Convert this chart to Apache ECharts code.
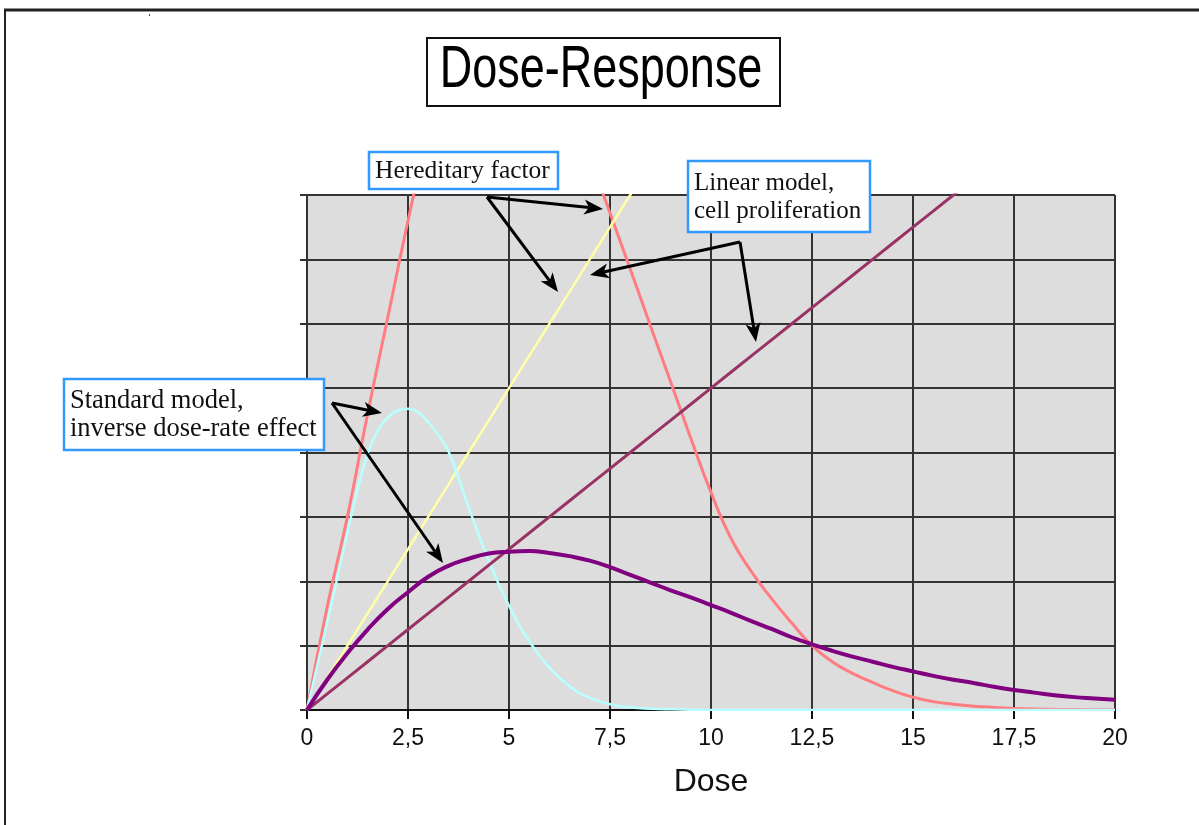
<!DOCTYPE html>
<html>
<head>
<meta charset="utf-8">
<title>Dose-Response</title>
<script src="https://cdn.jsdelivr.net/npm/echarts@6/dist/echarts.min.js"></script>
<style>
  html, body { margin: 0; padding: 0; background: #fff; }
  #chart { width: 1199px; height: 825px; }
</style>
</head>
<body>
<div id="chart"></div>
<script>
// dose steps
const doses = [0, 0.5, 1, 1.5, 2, 2.5, 3, 3.5, 4, 4.5, 5, 5.5, 6, 6.5, 7, 7.5, 8, 8.5, 9, 9.5,
  10, 10.5, 11, 11.5, 12, 12.5, 13, 13.5, 14, 14.5, 15, 15.5, 16, 16.5, 17, 17.5, 18, 18.5, 19, 19.5, 20];

// hereditary factor (red), peaks off the top of the chart
const hereditary = [0, 1.6, 3.0, 4.6, 6.1, 7.6, 9.0, 10.3, 11.3, 11.9, 12.0, 11.6, 10.7, 9.6, 8.6, 7.72, 6.85, 5.97, 5.1, 4.22,
  3.38, 2.66, 2.15, 1.73, 1.35, 1.0, 0.75, 0.57, 0.43, 0.3, 0.2, 0.13, 0.09, 0.06, 0.04, 0.025, 0.015, 0.01, 0.007, 0.005, 0.004];

// yellow straight line
const linearSteep = [0, 0.5, 1, 1.5, 2, 2.5, 3, 3.5, 4, 4.5, 5, 5.5, 6, 6.5, 7, 7.5, 8, 8.5, 9, 9.5,
  10, 10.5, 11, 11.5, 12, 12.5, 13, 13.5, 14, 14.5, 15, 15.5, 16, 16.5, 17, 17.5, 18, 18.5, 19, 19.5, 20];

// inverse dose-rate effect (cyan), read on a finer step around the hump
const cyanDoses = [0, 0.25, 0.5, 0.75, 1, 1.25, 1.5, 1.75, 2, 2.25, 2.5, 2.75, 3, 3.25, 3.5, 3.75, 4, 4.25, 4.5, 4.75,
  5, 5.25, 5.5, 5.75, 6, 6.5, 7, 7.5, 8, 9, 10, 20];
const inverseRate = [0, 0.68, 1.36, 2.05, 2.75, 3.42, 3.98, 4.33, 4.54, 4.65, 4.68, 4.62, 4.47, 4.27, 4.02, 3.6, 3.15, 2.72, 2.32, 1.95,
  1.62, 1.32, 1.07, 0.85, 0.66, 0.37, 0.19, 0.09, 0.04, 0.01, 0, 0];

// linear model, cell proliferation (maroon)
const linearModel = [0, 0.25, 0.5, 0.75, 1, 1.25, 1.5, 1.75, 2, 2.25, 2.5, 2.75, 3, 3.25, 3.5, 3.75, 4, 4.25, 4.5, 4.75,
  5, 5.25, 5.5, 5.75, 6, 6.25, 6.5, 6.75, 7, 7.25, 7.5, 7.75, 8, 8.25, 8.5, 8.75, 9, 9.25, 9.5, 9.75, 10];

// standard model (dark purple)
const standardModel = [0, 0.47, 0.88, 1.25, 1.57, 1.83, 2.07, 2.24, 2.35, 2.43, 2.46, 2.47, 2.44, 2.39, 2.32, 2.22, 2.1, 1.98, 1.86, 1.75,
  1.63, 1.51, 1.38, 1.26, 1.13, 1.02, 0.92, 0.83, 0.75, 0.67, 0.6, 0.53, 0.47, 0.42, 0.36, 0.31, 0.27, 0.23, 0.2, 0.18, 0.16];

const pairs = (xs, ys) => xs.map((d, i) => [d, ys[i]]);

function arrow(sx, sy, tx, ty) {
  const ang = Math.atan2(ty - sy, tx - sx);
  const len = 19, half = 7.5, notch = 5;
  const ca = Math.cos(ang), sa = Math.sin(ang);
  const bx = tx - len * ca, by = ty - len * sa;
  const nx = tx - (len - notch) * ca, ny = ty - (len - notch) * sa;
  return [
    {
      type: 'line', z: 100,
      shape: { x1: sx, y1: sy, x2: nx, y2: ny },
      style: { stroke: '#000', lineWidth: 3 }
    },
    {
      type: 'polygon', z: 100,
      shape: { points: [[tx, ty], [bx - half * sa, by + half * ca], [nx, ny], [bx + half * sa, by - half * ca]] },
      style: { fill: '#000' }
    }
  ];
}

function noteBox(x, y, w, h, text, size) {
  return [
    {
      type: 'rect', z: 100,
      shape: { x: x, y: y, width: w, height: h },
      style: { fill: '#fff', stroke: '#3399ff', lineWidth: 2.5 }
    },
    {
      type: 'text', z: 101, x: x + 6, y: y + h / 2 + 1,
      style: {
        text: text, fill: '#111', font: size + 'px "Liberation Serif", serif',
        lineHeight: 28, textAlign: 'left', textVerticalAlign: 'middle'
      }
    }
  ];
}

const chart = echarts.init(document.getElementById('chart'));

const option = {
  backgroundColor: '#fff',
  animation: false,
  grid: {
    left: 307, top: 195, right: 84, bottom: 115,
    show: true, backgroundColor: '#dddddd', borderWidth: 0
  },
  xAxis: {
    type: 'value', min: 0, max: 20, interval: 2.5,
    name: 'Dose', nameLocation: 'middle', nameGap: 56,
    nameTextStyle: { fontFamily: 'Liberation Sans, Arial, sans-serif', fontSize: 32, color: '#111' },
    axisLine: { show: true, lineStyle: { color: '#111', width: 2 } },
    axisTick: { show: true, length: 9, lineStyle: { color: '#111', width: 2 } },
    axisLabel: {
      margin: 17, fontSize: 23, color: '#111', fontFamily: 'Liberation Sans, Arial, sans-serif',
      formatter: (v) => String(v).replace('.', ',')
    },
    splitLine: { show: true, lineStyle: { color: '#333', width: 2 } }
  },
  yAxis: {
    type: 'value', min: 0, max: 8, interval: 1,
    axisLine: { show: true, lineStyle: { color: '#333', width: 2 } },
    axisTick: { show: true, length: 7, lineStyle: { color: '#333', width: 2 } },
    axisLabel: { show: false },
    splitLine: { show: true, lineStyle: { color: '#333', width: 2 } }
  },
  series: [
    {
      name: 'Hereditary factor', type: 'line', smooth: true, symbol: 'none',
      lineStyle: { color: '#ff7c80', width: 3 }, data: pairs(doses, hereditary)
    },
    {
      name: 'Linear', type: 'line', symbol: 'none',
      lineStyle: { color: '#ffffa6', width: 2.5 }, data: pairs(doses, linearSteep)
    },
    {
      name: 'Inverse dose-rate', type: 'line', smooth: true, symbol: 'none',
      lineStyle: { color: '#b8ffff', width: 2.5 }, data: pairs(cyanDoses, inverseRate)
    },
    {
      name: 'Linear model', type: 'line', symbol: 'none',
      lineStyle: { color: '#993366', width: 3 }, data: pairs(doses, linearModel)
    },
    {
      name: 'Standard model', type: 'line', smooth: true, symbol: 'none',
      lineStyle: { color: '#800080', width: 4 }, data: pairs(doses, standardModel)
    }
  ],
  graphic: [
    // outer frame
    { type: 'line', z: 100, shape: { x1: 4, y1: 10, x2: 1199, y2: 10 }, style: { stroke: '#222', lineWidth: 3 } },
    { type: 'line', z: 100, shape: { x1: 5, y1: 10, x2: 5, y2: 825 }, style: { stroke: '#222', lineWidth: 2 } },
    { type: 'rect', z: 100, shape: { x: 149, y: 14, width: 1, height: 2 }, style: { fill: '#444' } },
    // title box
    {
      type: 'rect', z: 100, shape: { x: 427, y: 38, width: 353, height: 68 },
      style: { fill: '#fff', stroke: '#111', lineWidth: 2 }
    },
    {
      type: 'text', z: 101, x: 601, y: 71, scaleY: 1.3,
      style: {
        text: 'Dose-Response', fill: '#000', font: '45px "Liberation Sans", Arial, sans-serif',
        textAlign: 'center', textVerticalAlign: 'middle'
      }
    },
    ...noteBox(369, 152, 189, 37, 'Hereditary factor', 25.5),
    ...noteBox(688, 161, 182, 71, 'Linear model,\ncell proliferation', 25),
    ...noteBox(64, 379, 260, 71, 'Standard model,\ninverse dose-rate effect', 26.5),
    ...arrow(487, 197, 603, 209),
    ...arrow(487, 197, 558, 292),
    ...arrow(740, 242, 590, 275),
    ...arrow(740, 242, 756, 342),
    ...arrow(332, 403, 382, 413),
    ...arrow(332, 403, 443, 563)
  ]
};

chart.setOption(option);
</script>
</body>
</html>
